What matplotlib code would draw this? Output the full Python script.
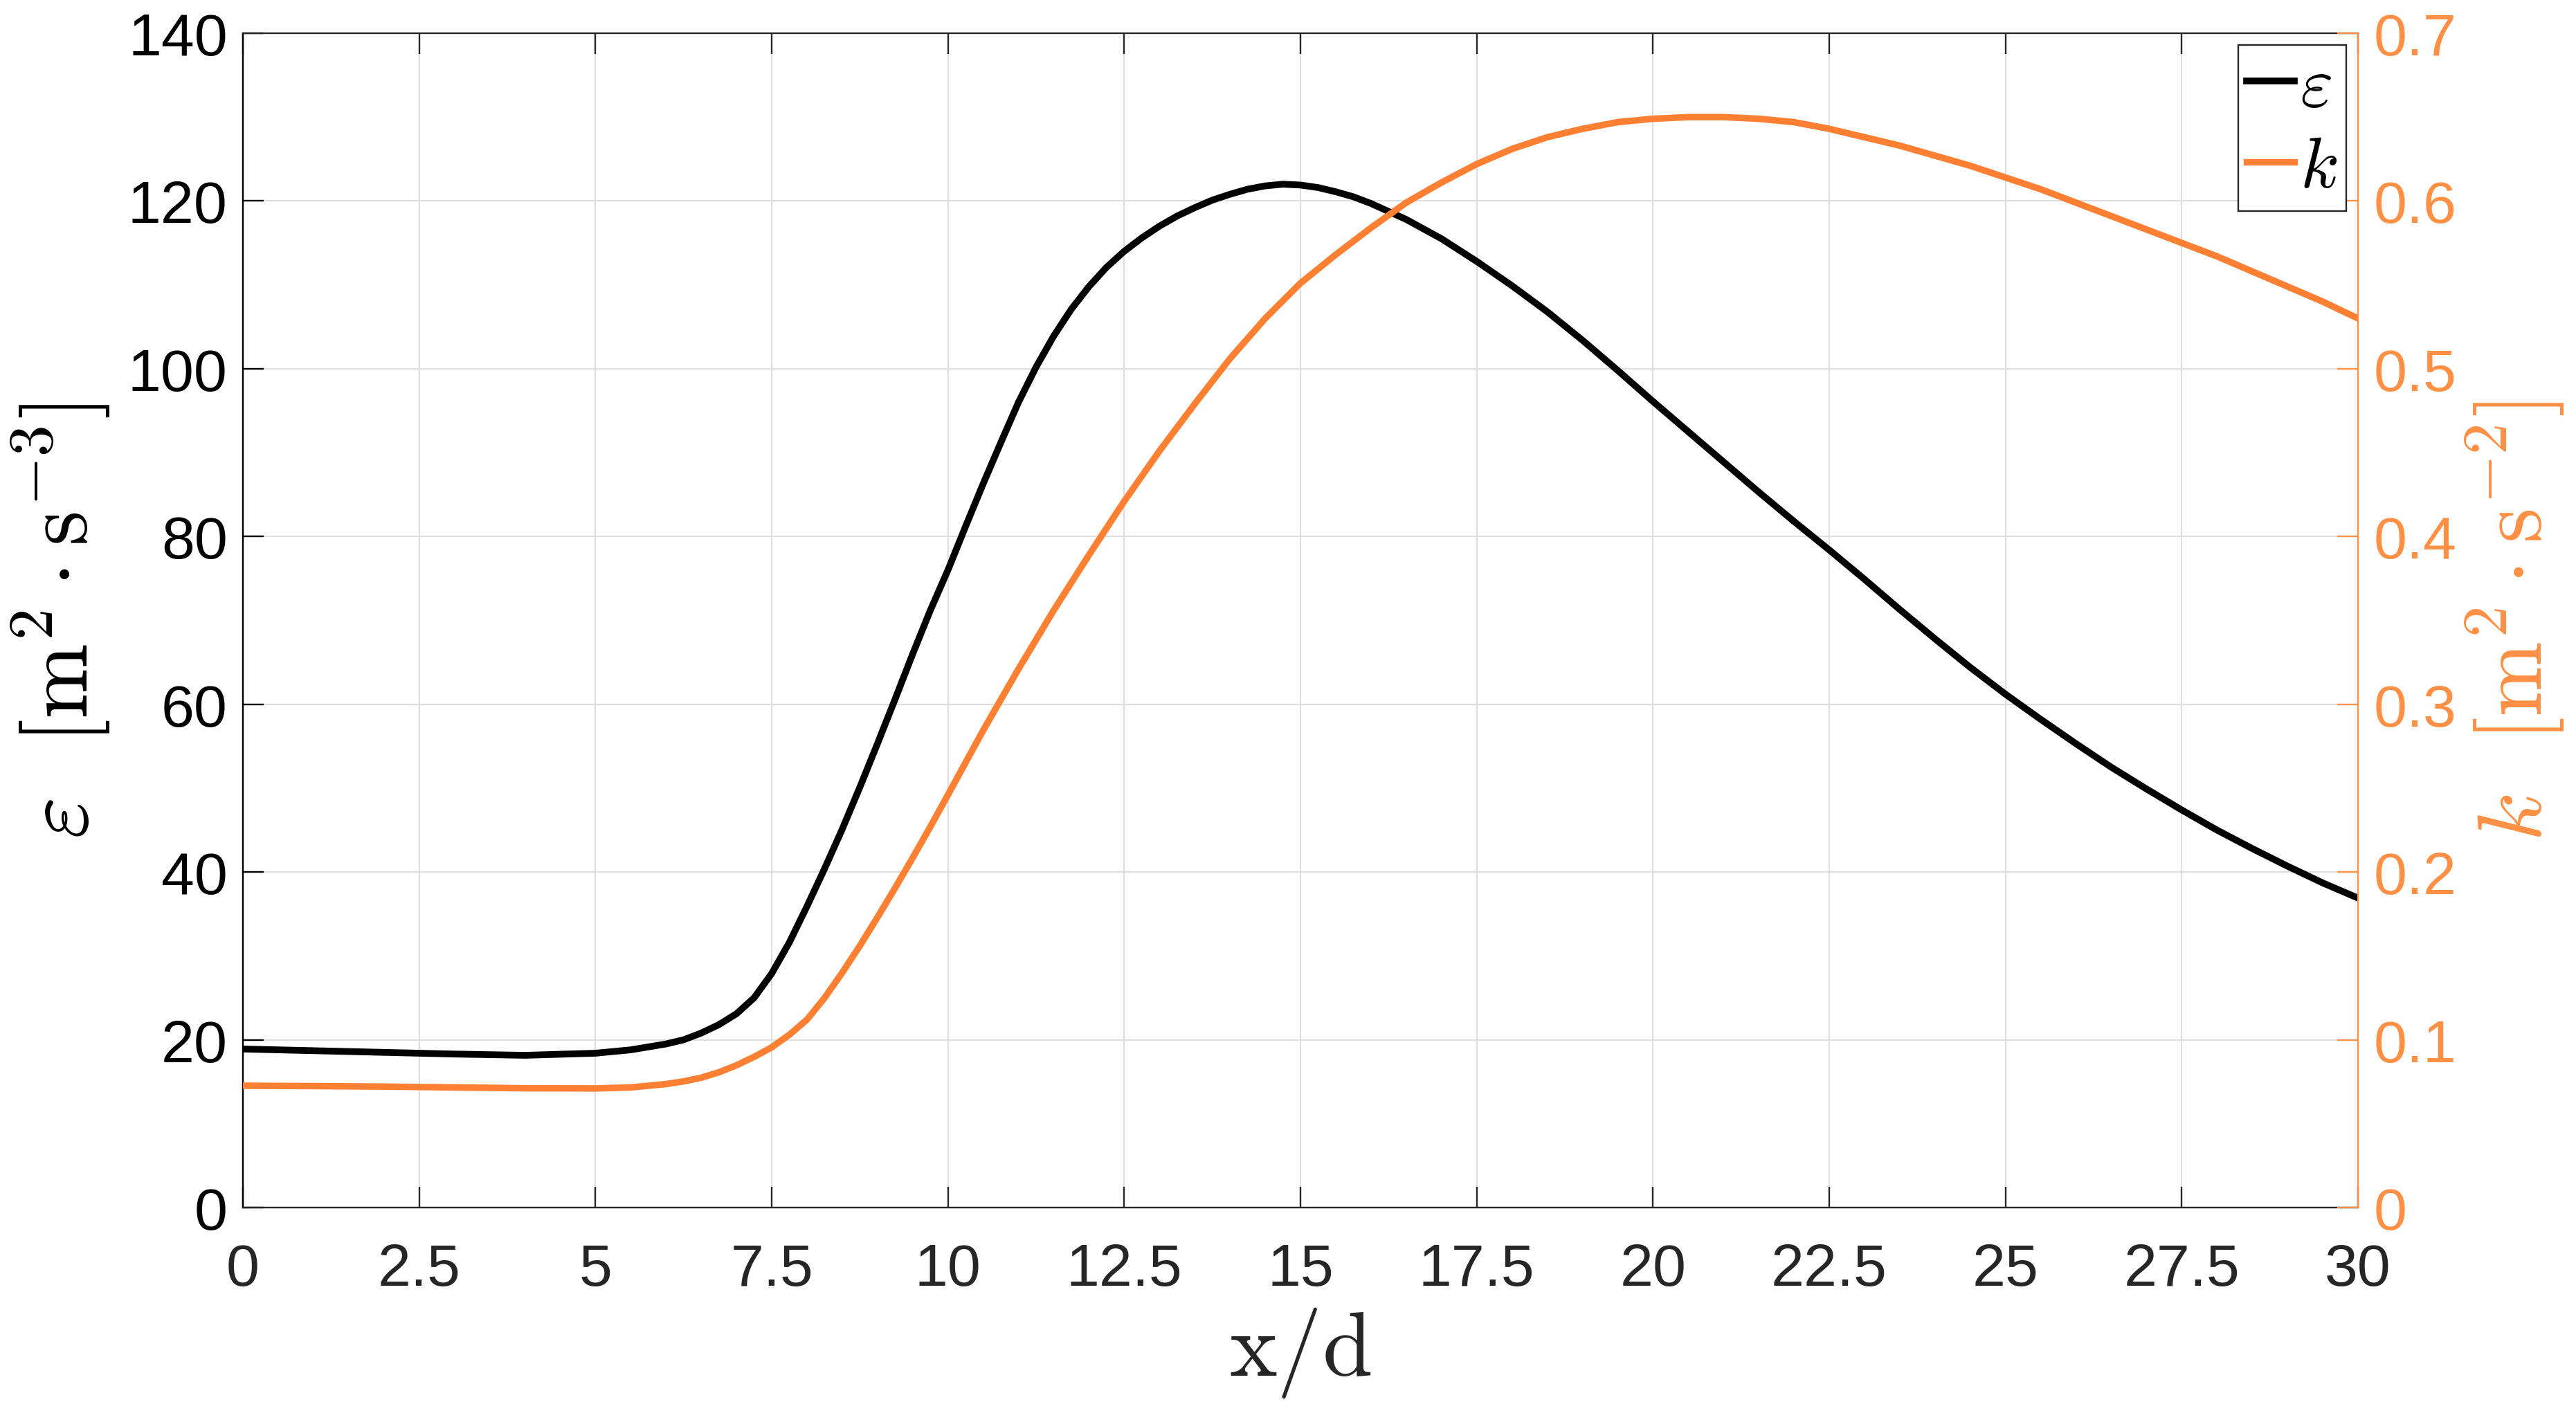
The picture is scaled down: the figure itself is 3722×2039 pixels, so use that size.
import matplotlib
matplotlib.use("Agg")
import matplotlib.pyplot as plt

plt.rcParams['font.family'] = ['Liberation Sans', 'DejaVu Sans']
plt.rcParams['mathtext.fontset'] = 'cm'

# values
x_eps = [0, 1, 2, 3, 4, 5, 5.5, 6, 6.25, 6.5, 6.75, 7, 7.25, 7.5, 7.75, 8, 8.25,
         8.5, 8.75, 9, 9.25, 9.5, 9.75, 10, 10.25, 10.5, 10.75, 11, 11.25, 11.5,
         11.75, 12, 12.25, 12.5, 12.75, 13, 13.25, 13.5, 13.75, 14, 14.25, 14.5,
         14.75, 15, 15.25, 15.5, 15.75, 16, 16.5, 17, 17.5, 18, 18.5, 19, 19.5,
         20, 20.5, 21, 21.5, 22, 22.5, 23, 23.5, 24, 24.5, 25, 25.5, 26, 26.5,
         27, 27.5, 28, 28.5, 29, 29.5, 30]
eps = [18.9, 18.7, 18.5, 18.3, 18.15, 18.4, 18.8, 19.5, 20.0, 20.8, 21.8, 23.1,
       25.0, 27.9, 31.6, 35.9, 40.4, 45.1, 50.1, 55.3, 60.6, 66.0, 71.2, 76.0,
       81.2, 86.3, 91.2, 96.0, 100.2, 103.9, 107.1, 109.8, 112.1, 114.0, 115.6,
       117.0, 118.2, 119.2, 120.1, 120.8, 121.4, 121.8, 122.0, 121.9, 121.6,
       121.1, 120.5, 119.7, 117.8, 115.5, 112.8, 109.9, 106.8, 103.4, 99.8,
       96.1, 92.5, 88.9, 85.3, 81.8, 78.4, 74.9, 71.3, 67.8, 64.4, 61.2, 58.2,
       55.3, 52.5, 49.9, 47.4, 45.0, 42.8, 40.7, 38.7, 36.9]

x_k = [0, 1, 2, 3, 4, 5, 5.5, 6, 6.25, 6.5, 6.75, 7, 7.25, 7.5, 7.75, 8, 8.25,
       8.5, 8.75, 9, 9.25, 9.5, 9.75, 10, 10.5, 11, 11.5, 12, 12.5, 13, 13.5,
       14, 14.5, 15, 15.5, 16, 16.5, 17, 17.5, 18, 18.5, 19, 19.5, 20, 20.5,
       21, 21.5, 22, 22.5, 23, 23.5, 24, 24.5, 25, 25.5, 26, 26.5, 27, 27.5,
       28, 28.5, 29, 29.5, 30]
k = [0.0726, 0.0724, 0.0721, 0.0716, 0.0711, 0.0710, 0.0716, 0.0736, 0.0752,
     0.0774, 0.0806, 0.0848, 0.0898, 0.0955, 0.103, 0.112, 0.125, 0.140, 0.156,
     0.173, 0.1905, 0.2085, 0.227, 0.246, 0.2845, 0.321, 0.356, 0.389, 0.421,
     0.451, 0.479, 0.506, 0.530, 0.551, 0.568, 0.584, 0.599, 0.611, 0.622,
     0.631, 0.638, 0.643, 0.647, 0.649, 0.650, 0.650, 0.649, 0.647, 0.643,
     0.638, 0.633, 0.627, 0.621, 0.614, 0.607, 0.599, 0.591, 0.583, 0.575,
     0.567, 0.558, 0.549, 0.540, 0.530]

x_ticks = [0, 2.5, 5, 7.5, 10, 12.5, 15, 17.5, 20, 22.5, 25, 27.5, 30]
x_labels = ['0', '2.5', '5', '7.5', '10', '12.5', '15', '17.5', '20', '22.5', '25', '27.5', '30']
eps_ticks = [0, 20, 40, 60, 80, 100, 120, 140]
k_ticks = [0, 0.1, 0.2, 0.3, 0.4, 0.5, 0.6, 0.7]
k_labels = ['0', '0.1', '0.2', '0.3', '0.4', '0.5', '0.6', '0.7']

dark = '#262626'
orange_line = '#FF8033'
orange_axis = '#FF9045'

fig = plt.figure(figsize=(3722 / 200, 2040 / 200), dpi=200)
ax = fig.add_axes([351 / 3722, 1 - 1746 / 2040, (3407 - 351) / 3722, (1746 - 49) / 2040])
ax2 = ax.twinx()

l1, = ax.plot(x_eps, eps, color='black', lw=3.5, label=r'$\varepsilon$')
l2, = ax2.plot(x_k, k, color=orange_line, lw=3.4, label=r'$k$')

ax.set_xlim(0, 30)
ax.set_ylim(0, 140)
ax2.set_ylim(0, 0.7)
ax.set_xticks(x_ticks, labels=x_labels)
ax.set_yticks(eps_ticks, labels=[str(t) for t in eps_ticks])
ax2.set_yticks(k_ticks, labels=k_labels)

ax.set_axisbelow(True)
ax.grid(True, color='#DEDEDE', lw=0.75)

for s in ['top', 'bottom']:
    ax.spines[s].set_color(dark)
    ax.spines[s].set_linewidth(0.85)
ax.spines['left'].set_color('black')
ax.spines['left'].set_linewidth(0.85)
ax.spines['right'].set_visible(False)
for s in ['top', 'bottom', 'left']:
    ax2.spines[s].set_visible(False)
ax2.spines['right'].set_color(orange_axis)
ax2.spines['right'].set_linewidth(0.85)

ax.tick_params(axis='x', direction='in', length=10.8, width=0.85, top=True,
               bottom=True, labelsize=31, pad=18, colors=dark)
ax.tick_params(axis='y', direction='in', length=10.8, width=0.85, left=True,
               right=False, labelsize=31, pad=8, colors='black')
ax2.tick_params(axis='y', direction='in', length=10.8, width=0.85, right=True,
                left=False, labelsize=31, pad=8, colors=orange_axis)

ax.set_xlabel(r'$\mathrm{x/d}$', fontsize=47, color=dark)
ax.xaxis.set_label_coords(0.5, -0.083)
ax.set_ylabel(r'$\varepsilon\ \ [\mathrm{m}^2\cdot\mathrm{s}^{-3}]$', fontsize=47, color='black')
ax.yaxis.set_label_coords(-0.0618, 0.5)
ax2.set_ylabel(r'$k\ \ [\mathrm{m}^2\cdot\mathrm{s}^{-2}]$', fontsize=47, color=orange_axis)
ax2.yaxis.set_label_coords(1.050, 0.5)

leg = ax2.legend(handles=[l1, l2], loc='upper right', fontsize=37, fancybox=False,
                 framealpha=1, edgecolor=dark, borderpad=0.12, handlelength=0.67,
                 handletextpad=0.08, labelspacing=0.2, borderaxespad=0.17)
leg.get_frame().set_linewidth(0.85)

fig.savefig('out.png', dpi=200)
